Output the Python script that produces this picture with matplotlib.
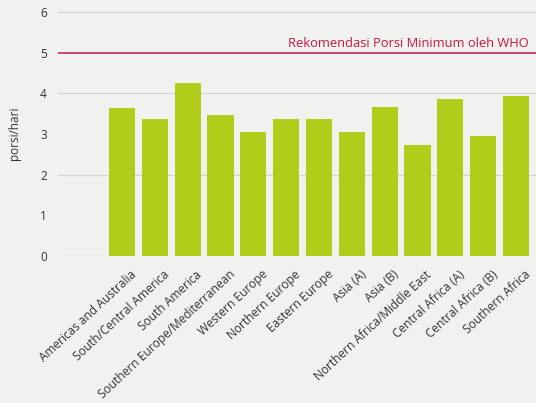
import matplotlib.pyplot as plt
import matplotlib.transforms as mtransforms
import numpy as np

plt.rcParams['font.family'] = ['Open Sans', 'DejaVu Sans']

# data
regions = [
    "Americas and Australia", "South/Central America", "South America",
    "Southern Europe/Mediterranean", "Western Europe", "Northern Europe",
    "Eastern Europe", "Asia (A)", "Asia (B)", "Northern Africa/Middle East",
    "Central Africa (A)", "Central Africa (B)", "Southern Africa",
]
portions = [3.64, 3.37, 4.25, 3.46, 3.05, 3.37, 3.36, 3.05, 3.66, 2.73, 3.86, 2.95, 3.93]
who_minimum = 5
who_label = "Rekomendasi Porsi Minimum oleh WHO"
yticks = [0, 1, 2, 3, 4, 5, 6]

BG = "#f1f1ef"
BAR = "#b2cc1a"
RED = "#c8173f"

fig = plt.figure(figsize=(5.36, 4.03), dpi=100, facecolor=BG)
ax = fig.add_axes([58/536, 1 - 256/403, 478/536, 246/403])
ax.set_facecolor(BG)

x = np.arange(len(regions))
ax.bar(x, portions, width=0.8, color=BAR, zorder=3)

# faint paper grid lines
for y in [0, 2, 4, 6]:
    ax.axhline(y, color="#d2d2d2", lw=0.8, zorder=1)

ax.axhline(who_minimum, color=RED, lw=1.1, zorder=4)
ax.text(0.985, who_minimum + 0.06, who_label, transform=ax.get_yaxis_transform(),
        ha="right", va="bottom", color=RED, fontsize=9.3)

ax.set_xlim(-1.95, 12.61)
ax.set_ylim(0, 6.05)
ax.set_yticks(yticks)
ax.set_yticklabels([str(v) for v in yticks], fontsize=8.5, color="#333333")
ax.set_xticks(x)
ax.set_xticklabels([])

# rotated category labels, shifted right of the bar centre like the original
offset = mtransforms.ScaledTranslation(8/100, -12/100, fig.dpi_scale_trans)
for i, name in enumerate(regions):
    ax.text(i, 0, name, transform=ax.get_xaxis_transform() + offset,
            rotation=43, rotation_mode="anchor", ha="right", va="top",
            fontsize=8.6, color="#333333")

ax.tick_params(length=0, pad=8)
for s in ax.spines.values():
    s.set_visible(False)

ax.set_ylabel("porsi/hari", fontsize=8.5, color="#333333", labelpad=14)

fig.savefig("out.png", dpi=100, facecolor=BG)
